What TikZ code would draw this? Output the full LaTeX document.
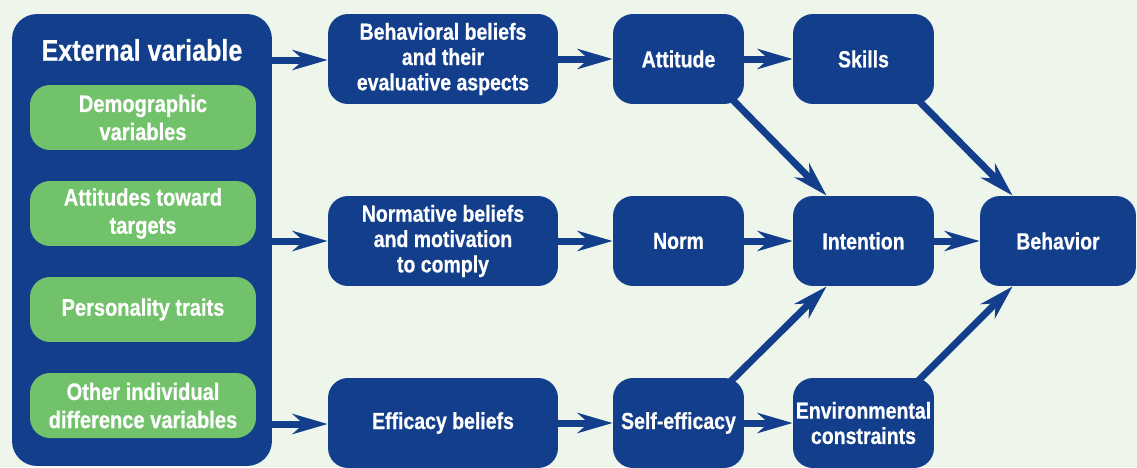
\documentclass[tikz,border=0pt]{standalone}
\usepackage{fontspec}
\setmainfont{Liberation Sans}[FakeStretch=0.84, BoldFeatures={FakeBold=0.6}]
\usetikzlibrary{arrows.meta,calc,backgrounds}
\definecolor{dblue}{HTML}{123E8B}
\definecolor{lgreen}{HTML}{72C16B}
\definecolor{bgc}{HTML}{EEF6EC}
\tikzset{
  bbox/.style={fill=dblue, draw=none, rounded corners=0.4cm, text=white, align=center,
    font=\bfseries\fontsize{13.2}{14.4}\selectfont, inner sep=0pt, minimum height=1.8cm},
  gbox/.style={fill=lgreen, draw=none, rounded corners=0.4cm, text=white, align=center,
    font=\bfseries\fontsize{13.6}{16}\selectfont, inner sep=0pt, minimum width=4.52cm, minimum height=1.3cm},
  arr/.style={draw=dblue, line width=0.14cm,
    -{Stealth[length=0.7cm, width=0.4cm, inset=0.22cm]}},
}
\begin{document}
\begin{tikzpicture}[x=0.02cm, y=-0.02cm]
\begin{scope}[on background layer]
\fill[bgc] (0,0) rectangle (1137,467);
\end{scope}
\useasboundingbox (0,0) rectangle (1137,467);
% left big box
\node[fill=dblue, rounded corners=0.5cm, inner sep=0pt, minimum width=5.2cm, minimum height=9.04cm] (ext) at (142,240) {};
\node[text=white, font=\bfseries\fontsize{17}{20}\selectfont, inner sep=0pt] (extt) at (142,50) {External variable};
\node[gbox] (g1) at (143,117.5) {Demographic\\variables};
\node[gbox] (g2) at (143,213.5) {Attitudes toward\\targets};
\node[gbox] (g3) at (143,309.5) {Personality traits};
\node[gbox] (g4) at (143,405.5) {Other individual\\difference variables};
% column 2
\node[bbox, minimum width=4.6cm] (beh) at (443,59) {Behavioral beliefs\\and their\\evaluative aspects};
\node[bbox, minimum width=4.6cm] (nb) at (443,241) {Normative beliefs\\and motivation\\to comply};
\node[bbox, minimum width=4.6cm] (eb) at (443,423) {Efficacy beliefs};
% column 3
\node[bbox, minimum width=2.62cm] (att) at (678.5,59) {Attitude};
\node[bbox, minimum width=2.62cm] (norm) at (678.5,241) {Norm};
\node[bbox, minimum width=2.62cm] (se) at (678.5,423) {Self-efficacy};
% column 4
\node[bbox, minimum width=2.82cm] (sk) at (863.5,59) {Skills};
\node[bbox, minimum width=2.82cm] (int) at (863.5,241) {Intention};
\node[bbox, minimum width=2.82cm] (env) at (863.5,423) {Environmental\\constraints};
% column 5
\node[bbox, minimum width=3.12cm] (bhv) at (1058,241) {Behavior};
\begin{scope}[on background layer]
\draw[arr] (ext.east |- 0,60) -- (beh.west |- 0,60);
\draw[arr] (ext.east |- nb) -- (nb);
\draw[arr] (ext.east |- 0,424) -- (eb.west |- 0,424);
\draw[arr] (beh) -- (att);
\draw[arr] (att) -- (sk);
\draw[arr] (nb) -- (norm);
\draw[arr] (norm) -- (int);
\draw[arr] (int) -- (bhv);
\draw[arr] (eb) -- (se);
\draw[arr] (se) -- (env);
\draw[arr] ($(att.south east)+(-14,-7)$) -- ($(int.north west)+(34,0)$);
\draw[arr] ($(sk.south east)+(-17,-5)$) -- ($(bhv.north west)+(33,0)$);
\draw[arr] ($(se.north east)+(-14,4)$) -- ($(int.south west)+(34,0)$);
\draw[arr] ($(env.north east)+(-17,4)$) -- ($(bhv.south west)+(33,0)$);
\end{scope}
\end{tikzpicture}
\end{document}
